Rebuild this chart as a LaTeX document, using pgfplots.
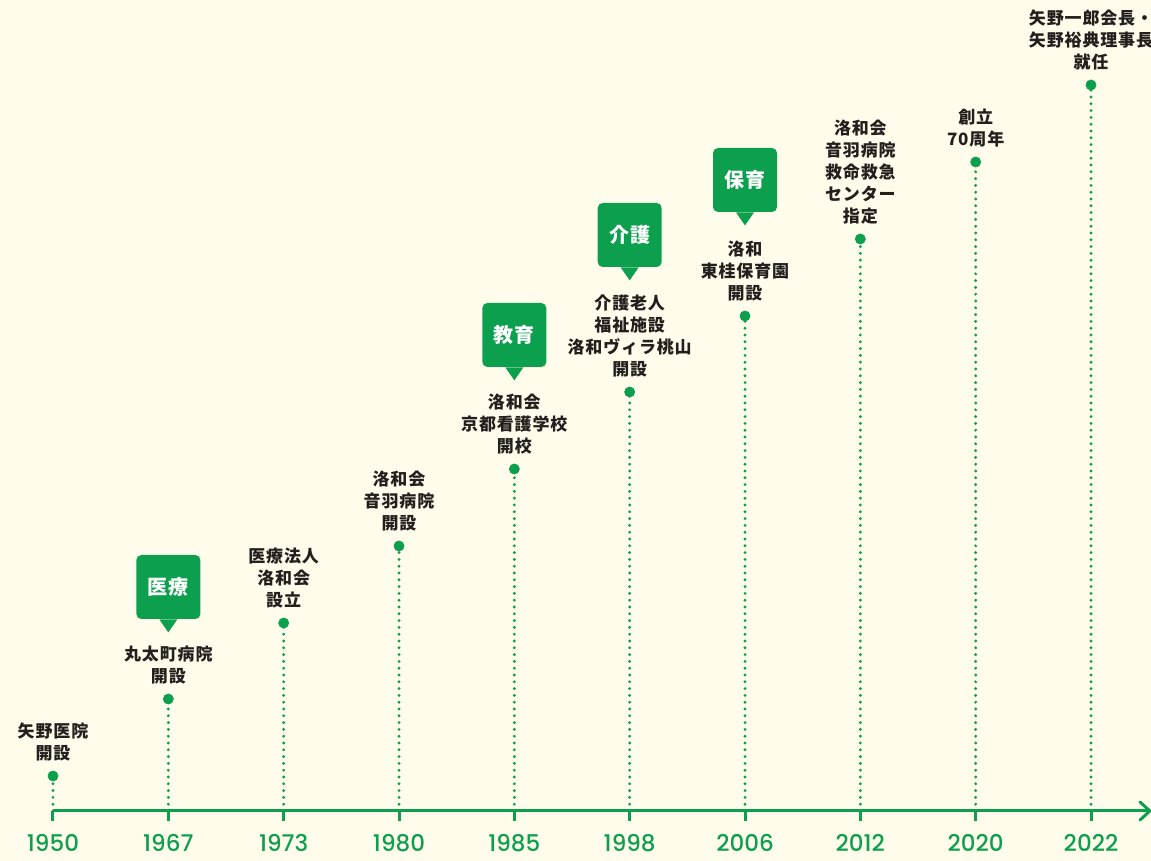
\documentclass[border=0pt]{standalone}
\usepackage{pgfplots}
\pgfplotsset{compat=1.18}
\usepackage{fontspec}
\setmainfont{Poppins}[UprightFont=* Medium]
\newfontfamily\jp{Noto Sans CJK JP}[LetterSpace=5]
\definecolor{bg}{HTML}{FFFCEC}
\definecolor{lg}{HTML}{0CA04E}
\definecolor{tx}{HTML}{231F1C}
\newcommand{\badge}[3]{%
  \node[fill=lg, rounded corners=2.5pt, minimum width=32pt, minimum height=32pt, inner sep=0pt, text=white, font=\jp\bfseries\fontsize{10}{12}\selectfont] (#1) at (axis cs:#2) {#3};
  \fill[lg] ([xshift=-4.5pt]#1.south) -- ([xshift=4.5pt]#1.south) -- ([yshift=-6.5pt]#1.south) -- cycle;}
\newcommand{\lab}[3]{%
  \node[anchor=south, inner sep=0pt, align=center, text=tx, font=\jp\bfseries\fontsize{8.5}{11}\selectfont, yshift=7.4pt] at (axis cs:#1,#2) {#3};}
\begin{document}
\begin{tikzpicture}
\fill[bg] (0,0) rectangle (575.5pt,430.5pt);
\begin{axis}[
  at={(0,0)}, anchor=south west,
  scale only axis, width=575.5pt, height=430.5pt,
  xmin=-0.4595, xmax=9.520, ymin=-50, ymax=811,
  axis x line=middle, axis y line=none,
  x axis line style={draw=none},
  xtick={0,...,9},
  xticklabels={1950,1967,1973,1980,1985,1998,2006,2012,2020,2022},
  ytick=\empty,
  tick align=outside, major tick length=5pt,
  xtick style={draw=lg, line width=1.5pt},
  xticklabel style={font=\fontsize{11.5}{13}\selectfont, text=lg, anchor=north, inner sep=0pt, yshift=-6.5pt},
  clip=false,
]
\addplot[ycomb, lg, line width=1.6pt, line cap=round, dash pattern=on 0pt off 3.4pt, mark=none] coordinates {
(0,35) (1,112) (2,188) (3,265) (4,342) (5,419) (6,495) (7,572) (8,649) (9,726)};
\addplot[only marks, mark=*, mark size=2.5pt, color=lg] coordinates {
(0,35) (1,112) (2,188) (3,265) (4,342) (5,419) (6,495) (7,572) (8,649) (9,726)};
\draw[lg, line width=1.5pt] (axis cs:0,0) -- (axis cs:9.51,0);
\draw[lg, line width=1.5pt, line cap=round, line join=miter] (axis cs:9.425,9) -- (axis cs:9.51,0) -- (axis cs:9.425,-9);
\lab{0}{35}{矢野医院\\開設}
\lab{1}{112}{丸太町病院\\開設}
\lab{2}{188}{医療法人\\洛和会\\設立}
\lab{3}{265}{洛和会\\音羽病院\\開設}
\lab{4}{342}{洛和会\\京都看護学校\\開校}
\lab{5}{419}{介護老人\\福祉施設\\洛和ヴィラ桃山\\開設}
\lab{6}{495}{洛和\\東桂保育園\\開設}
\lab{7}{572}{洛和会\\音羽病院\\救命救急\\センター\\指定}
\lab{8}{649}{創立\\70周年}
\lab{9}{726}{矢野一郎会長・\\矢野裕典理事長\\就任}
\badge{b1}{1,224}{医療}
\badge{b4}{4,476}{教育}
\badge{b5}{5,576}{介護}
\badge{b6}{6,631}{保育}
\end{axis}
\pgfresetboundingbox
\path (0,0) rectangle (575.5pt,430.5pt);
\end{tikzpicture}
\end{document}
